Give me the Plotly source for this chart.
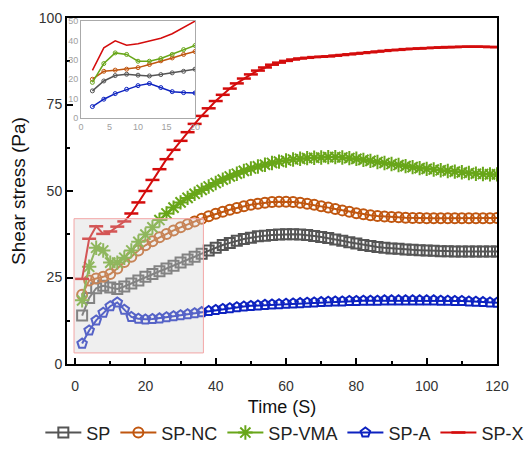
import plotly.graph_objects as go

time = list(range(2, 121, 2))

sp = [14.0, 19.1, 21.9, 22.6, 22.1, 21.7, 22.4, 23.3, 24.1, 25.2,
      26.0, 26.8, 27.6, 28.4, 29.3, 30.2, 31.0, 31.9, 32.8, 33.6,
      34.4, 35.0, 35.6, 36.1, 36.5, 36.9, 37.1, 37.3, 37.4, 37.5,
      37.5, 37.4, 37.3, 37.0, 36.7, 36.4, 36.0, 35.6, 35.2, 34.8,
      34.4, 34.1, 33.8, 33.6, 33.4, 33.3, 33.1, 33.0, 32.9, 32.8,
      32.7, 32.6, 32.6, 32.5, 32.5, 32.5, 32.5, 32.5, 32.5, 32.5]

sp_nc = [20.0, 24.1, 24.7, 25.2, 26.0, 27.6, 29.5, 31.0, 32.8, 34.3,
         35.5, 36.6, 37.6, 38.6, 39.5, 40.4, 41.2, 42.0, 42.7, 43.4,
         44.0, 44.6, 45.1, 45.6, 46.0, 46.3, 46.6, 46.8, 46.9, 46.9,
         46.8, 46.6, 46.3, 46.0, 45.6, 45.2, 44.8, 44.4, 44.0, 43.6,
         43.3, 43.0, 42.8, 42.6, 42.5, 42.4, 42.3, 42.2, 42.2, 42.1,
         42.1, 42.1, 42.1, 42.1, 42.1, 42.1, 42.1, 42.1, 42.1, 42.2]

sp_vma = [18.4, 28.1, 33.6, 32.8, 29.3, 29.3, 30.7, 32.8, 35.3, 37.4,
          39.5, 41.6, 43.5, 45.2, 46.7, 48.0, 49.2, 50.3, 51.3, 52.3,
          53.3, 54.2, 55.0, 55.8, 56.5, 57.1, 57.6, 58.1, 58.5, 58.8,
          59.1, 59.3, 59.5, 59.6, 59.7, 59.8, 59.8, 59.7, 59.5, 59.3,
          59.0, 58.7, 58.4, 58.1, 57.8, 57.5, 57.2, 56.9, 56.6, 56.4,
          56.2, 56.0, 55.8, 55.6, 55.4, 55.2, 55.0, 54.9, 54.8, 54.8]

sp_a = [5.9, 9.7, 12.6, 14.8, 16.7, 17.8, 15.7, 13.6, 13.1, 12.9,
        13.0, 13.2, 13.5, 13.8, 14.1, 14.4, 14.7, 15.0, 15.3, 15.6,
        15.9, 16.1, 16.4, 16.6, 16.8, 16.9, 17.1, 17.2, 17.3, 17.4,
        17.5, 17.6, 17.7, 17.8, 17.9, 18.0, 18.1, 18.1, 18.2, 18.2,
        18.3, 18.3, 18.3, 18.4, 18.4, 18.4, 18.4, 18.4, 18.4, 18.4,
        18.4, 18.3, 18.3, 18.2, 18.2, 18.1, 18.0, 17.9, 17.8, 17.7]

sp_x = [24.6, 36.2, 39.8, 37.6, 38.3, 39.7, 41.2, 43.5, 46.7, 50.0,
        53.2, 56.3, 59.2, 61.9, 64.5, 67.0, 69.4, 71.7, 73.9, 76.0,
        77.8, 79.6, 81.1, 82.5, 83.7, 84.8, 85.7, 86.5, 87.1, 87.6,
        88.0, 88.3, 88.5, 88.7, 88.8, 88.9, 89.1, 89.3, 89.5, 89.7,
        89.9, 90.1, 90.3, 90.5, 90.7, 90.8, 91.0, 91.1, 91.2, 91.3,
        91.4, 91.5, 91.6, 91.6, 91.7, 91.7, 91.7, 91.7, 91.6, 91.6]

names = ["SP", "SP-NC", "SP-VMA", "SP-A", "SP-X"]
colors = ["#555555", "#c0560f", "#68a619", "#0d22c0", "#d40c0c"]
symbols = ["square-open", "circle-open", "asterisk-open", "pentagon-open", "line-ew-open"]
sizes = [10, 10, 12, 10, 10]
series = [sp, sp_nc, sp_vma, sp_a, sp_x]

inset_n = 10  # points shown in inset (t = 2..20)

fig = go.Figure()
for name, col, sym, sz, ys in zip(names, colors, symbols, sizes, series):
    fig.add_trace(go.Scatter(
        x=time, y=ys, name=name, mode="lines+markers",
        line=dict(color=col, width=2),
        marker=dict(symbol=sym, size=sz, color=col,
                    line=dict(color=col, width=2.5 if name == "SP-X" else 2)),
        xaxis="x", yaxis="y",
    ))

for name, col, ys in zip(names, colors, series):
    fig.add_trace(go.Scatter(
        x=time[:inset_n], y=ys[:inset_n], name=name, showlegend=False,
        mode="lines" if name == "SP-X" else "lines+markers",
        line=dict(color=col, width=1.5),
        marker=dict(symbol="circle-open", size=4, color=col, line=dict(color=col, width=1)),
        xaxis="x2", yaxis="y2",
    ))

fig.add_shape(type="rect", xref="x", yref="y", x0=-0.3, x1=36.5, y0=3.2, y1=42,
              fillcolor="rgba(212,212,212,0.37)", line=dict(color="#f3a6a6", width=1),
              layer="above")

font_family = "Arial, Liberation Sans, sans-serif"
fig.update_layout(
    width=528, height=449,
    margin=dict(l=67, r=31, t=18, b=85, autoexpand=False),
    paper_bgcolor="white", plot_bgcolor="white",
    font=dict(family=font_family, color="#222222"),
    showlegend=True,
    legend=dict(orientation="h", x=-0.062, xanchor="left", y=-0.199, yanchor="middle",
                font=dict(size=18, color="#222222"), itemwidth=36, tracegroupgap=0),
    xaxis=dict(range=[-2.3, 120], domain=[0, 1], tickvals=[0, 20, 40, 60, 80, 100, 120],
               ticks="inside", ticklen=6, tickwidth=2, tickcolor="black", automargin=False,
               minor=dict(ticks="inside", ticklen=3, tickwidth=2, tickcolor="black", dtick=10, tick0=0),
               showline=True, linecolor="black", linewidth=2, mirror=True, showgrid=False,
               zeroline=False, tickfont=dict(size=14, color="#333333"), ticklabelstandoff=8,
               title=dict(text="Time (S)", font=dict(size=18, color="#111111"), standoff=8)),
    yaxis=dict(range=[0, 100], domain=[0, 1], tickvals=[0, 25, 50, 75, 100],
               ticks="inside", ticklen=6, tickwidth=2, tickcolor="black", automargin=False,
               minor=dict(ticks="inside", ticklen=3, tickwidth=2, tickcolor="black", dtick=12.5, tick0=0),
               showline=True, linecolor="black", linewidth=2, mirror=True, showgrid=False,
               zeroline=False, tickfont=dict(size=14, color="#333333"),
               title=dict(text="Shear stress (Pa)", font=dict(size=19, color="#111111"), standoff=8)),
    xaxis2=dict(range=[0, 20], domain=[0.0326, 0.2977], anchor="y2", tickvals=[0, 5, 10, 15, 20],
                ticks="", showline=True, linecolor="#aaaaaa", linewidth=1, mirror=True,
                showgrid=False, zeroline=False, tickfont=dict(size=9, color="#a0a0a0")),
    yaxis2=dict(range=[0, 50], domain=[0.711, 0.991], anchor="x2", tickvals=[0, 10, 20, 30, 40, 50],
                ticks="", showline=True, linecolor="#aaaaaa", linewidth=1, mirror=True,
                showgrid=False, zeroline=False, tickfont=dict(size=9, color="#a0a0a0")),
)

fig.write_html("out.html")
